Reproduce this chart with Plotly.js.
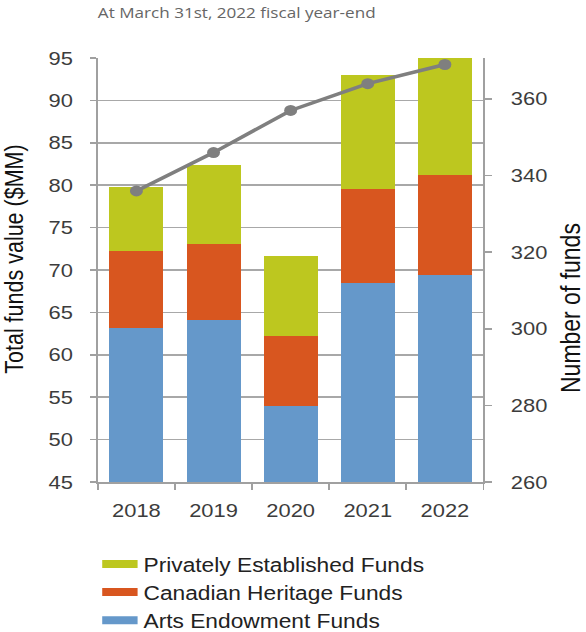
<!DOCTYPE html>
<html>
<head>
<meta charset="utf-8">
<script src="https://cdn.plot.ly/plotly-3.0.1.min.js"></script>
<style>
html,body{margin:0;padding:0;background:#fff;overflow:hidden;}
#chart{width:497px;height:632px;transform:scaleX(1.1791);transform-origin:0 0;}
</style>
</head>
<body>
<div id="chart"></div>
<script>
var years = ['2018', '2019', '2020', '2021', '2022'];
var artsEndowment = [63.2, 64.1, 54.0, 68.5, 69.4];
var canadianHeritage = [9.0, 9.0, 8.2, 11.1, 11.8];
var privatelyEstablished = [7.6, 9.3, 9.5, 13.4, 14.5];
var numberOfFunds = [336, 346, 357, 364, 369];

var seriesNames = ['Privately Established Funds', 'Canadian Heritage Funds', 'Arts Endowment Funds'];
var leftTitle = 'Total funds value ($MM)';
var rightTitle = 'Number of funds';
var colors = {priv: '#bdc71f', can: '#d8561f', arts: '#6598ca'};
var tickFont = {family: 'Liberation Sans, Arial, sans-serif', size: 18.6, color: '#3c3c3c'};

var traces = [
  {type: 'bar', x: years, y: artsEndowment, name: seriesNames[2], marker: {color: colors.arts}, showlegend: false, hoverinfo: 'skip'},
  {type: 'bar', x: years, y: canadianHeritage, name: seriesNames[1], marker: {color: colors.can}, showlegend: false, hoverinfo: 'skip'},
  {type: 'bar', x: years, y: privatelyEstablished, name: seriesNames[0], marker: {color: colors.priv}, showlegend: false, hoverinfo: 'skip'},
  {type: 'scatter', mode: 'lines+markers', x: years, y: numberOfFunds, yaxis: 'y2', showlegend: false,
   line: {color: '#7f7f7f', width: 3.5}, marker: {color: '#7f7f7f', size: 11}, cliponaxis: false},
  // legend entries
  {type: 'scatter', mode: 'lines', x: [null], y: [null], name: seriesNames[0], line: {color: colors.priv, width: 8}},
  {type: 'scatter', mode: 'lines', x: [null], y: [null], name: seriesNames[1], line: {color: colors.can, width: 8}},
  {type: 'scatter', mode: 'lines', x: [null], y: [null], name: seriesNames[2], line: {color: colors.arts, width: 8}}
];

var layout = {
  width: 497, height: 632,
  margin: {l: 83, r: 86.5, t: 58, b: 150, pad: 0, autoexpand: false},
  paper_bgcolor: '#fff', plot_bgcolor: '#fff',
  barmode: 'stack', bargap: 0.3,
  showlegend: true,
  title: {
    text: 'At March 31st, 2022 fiscal year-end',
    font: {family: 'Open Sans, sans-serif', size: 14.5, color: '#666'},
    xref: 'paper', x: 0, xanchor: 'left',
    yref: 'container', y: 0.979, yanchor: 'middle'
  },
  xaxis: {
    type: 'category',
    showgrid: false, showline: true, linecolor: '#a0a0a0', linewidth: 1.5,
    ticks: 'outside', tickson: 'boundaries', ticklen: 6, tickcolor: '#a0a0a0', tickwidth: 1.5,
    tickfont: tickFont, ticklabelstandoff: 11
  },
  yaxis: {
    range: [45, 95], dtick: 5, tick0: 45,
    showgrid: true, gridcolor: '#a8a8a8', gridwidth: 1.5,
    showline: true, linecolor: '#a0a0a0', linewidth: 1.5,
    ticks: 'outside', ticklen: 5, tickcolor: '#a0a0a0', tickwidth: 1.5,
    tickfont: tickFont, ticklabelstandoff: 11, zeroline: false
  },
  yaxis2: {
    overlaying: 'y', side: 'right',
    range: [260, 370.7], dtick: 20, tick0: 260,
    showgrid: false, showline: true, linecolor: '#a0a0a0', linewidth: 1.5,
    ticks: 'outside', ticklen: 6, tickcolor: '#a0a0a0', tickwidth: 1.5,
    tickfont: tickFont, ticklabelstandoff: 12, zeroline: false
  },
  annotations: [
    {text: leftTitle, xref: 'paper', yref: 'paper', x: -0.2147, y: 0.526, xanchor: 'center', yanchor: 'middle',
     textangle: -90, showarrow: false, font: {family: 'Liberation Sans, Arial, sans-serif', size: 21.5, color: '#111'}},
    {text: rightTitle, xref: 'paper', yref: 'paper', x: 1.226, y: 0.41, xanchor: 'center', yanchor: 'middle',
     textangle: -90, showarrow: false, font: {family: 'Liberation Sans, Arial, sans-serif', size: 23, color: '#111'}}
  ],
  legend: {
    x: -0.004, xanchor: 'left', yref: 'container', y: 0.1377, yanchor: 'top',
    font: {family: 'Liberation Sans, Arial, sans-serif', size: 19.3, color: '#222'},
    bgcolor: 'rgba(0,0,0,0)', borderwidth: 0, itemwidth: 30,
    traceorder: 'normal', tracegroupgap: 0
  }
};

Plotly.newPlot('chart', traces, layout, {displayModeBar: false, staticPlot: true});
</script>
</body>
</html>
